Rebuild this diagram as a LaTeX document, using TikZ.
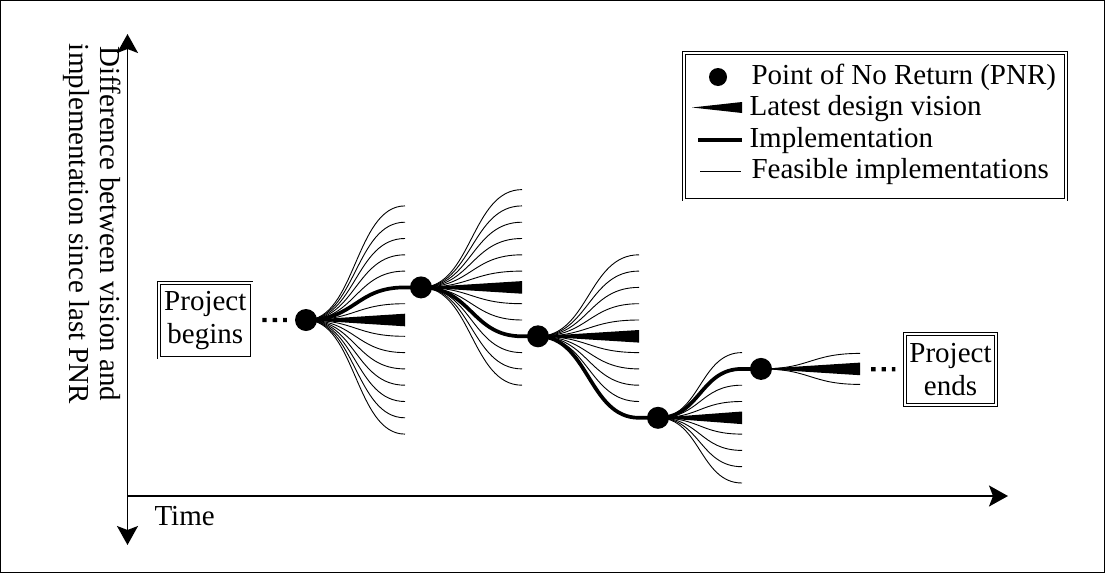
\documentclass[tikz,border=0pt]{standalone}
\usepackage{fontspec}
\setmainfont{Liberation Serif}
\usetikzlibrary{arrows.meta,calc}
\pgfdeclarelayer{bg}
\pgfsetlayers{bg,main}
\newcommand\fanlines[4]{%
  \foreach \k in {1,...,#3}{%
    \draw[feas] (#1.center) .. controls +(#2/2,0) and +(-#2/2,0) .. ++(#2,\k*#4);
    \draw[feas] (#1.center) .. controls +(#2/2,0) and +(-#2/2,0) .. ++(#2,-\k*#4);
  }%
  \fill (#1.center) -- ++(#2,-6.3) -- ++(0,12.6) -- cycle;
}
\begin{document}
\begin{tikzpicture}[x=1pt,y=-1pt,
  txt/.style={font=\fontsize{29}{31}\selectfont},
  pnr/.style={circle,fill=black,minimum size=22pt,inner sep=0pt},
  feas/.style={line width=0.9pt},
  impl/.style={line width=3.7pt},
  dbox/.style={draw,double,double distance=2pt,line width=0.8pt,align=center,inner sep=1pt,font=\fontsize{29}{33}\selectfont},
  axis/.style={line width=1.8pt},
  dotline/.style={line width=4.3pt,dash pattern=on 4.3pt off 6pt}
]
\useasboundingbox (0,0) rectangle (1105,573);
\draw[line width=1pt] (0.5,0.5) rectangle (1104.5,572.5);

% axes
\coordinate (ytop) at (127.5,34);
\coordinate (ybot) at (127.5,545);
\coordinate (o) at (127.5,496);
\coordinate (xend) at (1008,496);
\draw[axis,{Stealth[length=19pt,width=21pt,inset=4pt]}-{Stealth[length=19pt,width=21pt,inset=4pt]}] (ytop) -- (ybot);
\draw[axis,-{Stealth[length=19pt,width=21pt,inset=4pt]}] (o) -- (xend);
\node[txt,anchor=base west] (time) at (151,525) {Time};
\node[txt,rotate=-90,align=center] (ylab) at (92,224) {Difference between vision and\\implementation since last PNR};

% PNR nodes
\node[pnr] (p1) at (306,320) {};
\node[pnr] (p2) at (421,287.4) {};
\node[pnr] (p3) at (538,336.3) {};
\node[pnr] (p4) at (658,417.8) {};
\node[pnr] (p5) at (761,368.9) {};

% project boxes
\node[dbox,minimum width=92.4pt,minimum height=74.7pt] (pb) at (205.3,320.2) {Project\\begins};
\node[dbox,minimum width=91.4pt,minimum height=71.4pt] (pe) at (950.5,369.5) {Project\\ends};

\begin{pgfonlayer}{bg}
\fanlines{p1}{99}{7}{16.3}
\fanlines{p2}{101}{6}{16.3}
\fanlines{p3}{101}{5}{16.3}
\fanlines{p4}{84}{4}{16.3}
\fanlines{p5}{99}{1}{15.5}
\draw[impl] (p1.center) .. controls +(49.5,0) and +(-49.5,0) .. ++(99,-32.6) -- (p2.center);
\draw[impl] (p2.center) .. controls +(50.5,0) and +(-50.5,0) .. ++(101,48.9) -- (p3.center);
\draw[impl] (p3.center) .. controls +(50.5,0) and +(-50.5,0) .. ++(101,81.5) -- (p4.center);
\draw[impl] (p4.center) .. controls +(42,0) and +(-42,0) .. ++(84,-48.9) -- (p5.center);
\end{pgfonlayer}

\draw[dotline,shorten <=10.5pt,shorten >=8pt] (pb) -- (p1);
\draw[dotline,shorten <=99pt,shorten >=9pt] (p5) -- (pe);

% legend
\node[draw,double,double distance=2pt,line width=0.8pt,minimum width=382.4pt,minimum height=146.9pt] (leg) at (875,126.2) {};
\node[pnr,minimum size=18pt] (lc) at (718,77) {};
\node[txt,anchor=base west] (l1) at (748,84) {Point of No Return (PNR)};
\coordinate (lw) at (692,107.5);
\fill (lw) -- ++(50,-5.5) -- ++(0,11) -- cycle;
\node[txt,anchor=base west] (l2) at (746,115.5) {Latest design vision};
\coordinate (li) at (698,140);
\draw[impl,line width=3.4pt] (li) -- ++(44,0);
\node[txt,anchor=base west] (l3) at (746,147) {Implementation};
\coordinate (lf) at (700,171);
\draw[feas] (lf) -- ++(41,0);
\node[txt,anchor=base west] (l4) at (748,178) {Feasible implementations};
\end{tikzpicture}
\end{document}
